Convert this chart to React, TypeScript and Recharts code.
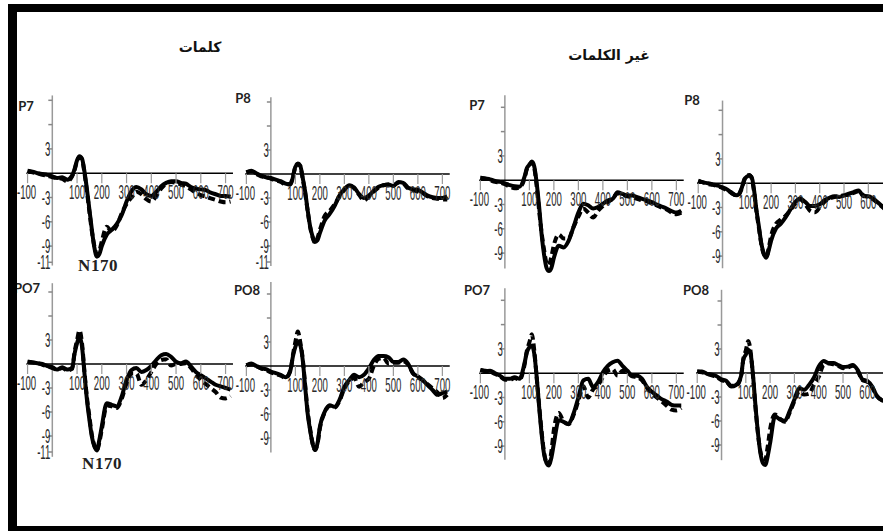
import React from 'react';
import { LineChart, Line, XAxis, YAxis, ReferenceLine, ReferenceDot } from 'recharts';

// time points (ms) for every trace
const times = [
  -100, -80, -60, -40, -20, 0, 20, 40, 60, 80,
  90, 100, 110, 120, 130, 140, 150, 160, 170, 180, 190, 200,
  220, 240, 260, 280, 300, 320, 340, 360, 380, 400, 420, 440, 460, 480, 500,
  520, 540, 560, 580, 600, 620, 640, 660, 680, 700, 720,
];

// كلمات (words)
const p7WordsSolid = [
  0.3, 0.2, 0, -0.1, -0.2, -0.4, -0.6, -0.5, -0.8, -0.3,
  0.5, 1.6, 2.1, 1.8, 0.2, -2.0, -4.5, -7.0, -9.2, -10.3, -10.0, -9.0,
  -7.6, -7.0, -6.3, -5.2, -3.5, -2.2, -1.7, -2.0, -2.6, -2.8, -2.3, -1.6, -1.2, -1.0, -1.0,
  -1.2, -1.3, -1.7, -1.9, -2.0, -2.1, -2.4, -2.6, -2.8, -2.8, -2.9,
];
const p7WordsDashed = [
  0.3, 0.1, 0, -0.2, -0.3, -0.5, -0.6, -0.7, -1.0, -0.4,
  0.4, 1.5, 2.0, 1.7, 0.0, -2.3, -4.8, -7.2, -9.0, -10.0, -9.6, -8.4,
  -6.6, -7.2, -6.5, -5.0, -3.8, -3.0, -2.3, -2.6, -3.2, -3.5, -2.8, -1.9, -1.3, -1.1, -1.2,
  -1.4, -1.6, -2.0, -2.4, -2.7, -2.9, -3.1, -3.3, -3.5, -3.6, -3.5,
];
const p8WordsSolid = [
  0.2, 0.4, 0.1, -0.2, -0.4, -0.5, -0.7, -0.9, -1.2, -1.3,
  -0.4, 0.9, 1.2, 1.0, -0.5, -2.2, -4.5, -6.5, -7.8, -8.5, -8.3, -7.4,
  -5.8, -5.0, -4.0, -2.7, -1.9, -1.4, -1.7, -2.5, -3.0, -2.7, -2.1, -1.6, -1.4, -1.3, -1.5,
  -1.0, -1.1, -1.7, -1.9, -2.0, -2.3, -2.7, -2.9, -3.0, -3.0, -2.8,
];
const p8WordsDashed = [
  0.2, 0.3, 0, -0.3, -0.4, -0.6, -0.8, -1.0, -1.3, -1.2,
  -0.3, 0.9, 1.3, 1.0, -0.6, -2.4, -4.6, -6.6, -7.9, -8.6, -8.0, -7.0,
  -5.2, -4.6, -3.8, -2.8, -2.0, -1.4, -1.8, -2.6, -3.3, -2.8, -2.2, -1.7, -1.4, -1.3, -1.4,
  -1.1, -1.2, -1.8, -2.0, -2.2, -2.4, -2.8, -3.0, -3.1, -3.2, -3.2,
];
const po7WordsSolid = [
  0.3, 0.2, 0.1, 0, -0.25, -0.4, -0.7, -0.4, -0.7, -0.5,
  1.3, 2.6, 3.4, 2.2, -1.2, -4.5, -7.0, -9.1, -10.3, -10.8, -9.5, -7.8,
  -4.9, -5.1, -5.3, -4.1, -2.0, -0.75, -0.5, -1.0, -0.75, -0.25, 0.5, 1.1, 1.25, 0.9, 0.3,
  0.1, 0.3, -0.3, -1.0, -1.4, -1.8, -2.2, -2.6, -2.8, -3.0, -3.2,
];
const po7WordsDashed = [
  0.3, 0.2, 0.1, -0.1, -0.3, -0.5, -0.7, -0.5, -0.8, -0.6,
  1.5, 3.0, 4.2, 2.6, -1.0, -4.2, -6.6, -8.9, -10.2, -10.8, -9.8, -8.2,
  -5.2, -5.3, -5.5, -4.4, -2.4, -1.2, -1.2, -2.6, -2.0, -1.0, 0, 0.5, 0.6, -0.2, 0,
  0, 0.1, -0.5, -1.3, -2.0, -2.5, -3.0, -3.5, -4.2, -4.3, -4.0,
];
const po8WordsSolid = [
  0.1, 0.3, 0, -0.3, -0.4, -0.7, -0.9, -1.1, -1.4, -0.5,
  1.2, 2.4, 3.0, 2.6, 0.75, -2.6, -5.9, -8.0, -9.7, -10.5, -9.7, -7.6,
  -5.7, -4.9, -5.1, -4.25, -2.6, -1.75, -1.1, -1.4, -1.1, -0.3, 0.75, 1.25, 1.25, 1.1, 0.5,
  0.5, 0.8, 0.3, -0.9, -1.3, -1.75, -2.4, -3.0, -3.6, -3.4, -3.2,
];
const po8WordsDashed = [
  0.1, 0.2, 0, -0.3, -0.5, -0.8, -1.0, -1.2, -1.5, -0.6,
  1.4, 3.0, 4.3, 3.0, 0.9, -2.4, -5.6, -7.8, -9.6, -10.5, -9.8, -7.8,
  -5.8, -5.0, -5.2, -4.4, -2.8, -1.9, -1.5, -2.6, -2.0, -1.6, 0, 0.9, 1.0, 0.3, 0.4,
  0.4, 0.6, 0.2, -0.9, -1.4, -1.8, -2.3, -2.8, -3.3, -4.0, -3.6,
];

// غير الكلمات (non-words)
const p7NonSolid = [
  0.3, 0.2, 0.1, -0.1, -0.2, -0.4, -0.6, -0.75, -0.8, 0.4,
  1.5, 1.9, 2.3, 1.7, -0.4, -3.3, -6.7, -9.2, -10.8, -11.2, -10.8, -9.6,
  -8.1, -8.3, -7.5, -5.8, -4.0, -2.9, -3.1, -3.5, -3.3, -2.9, -2.5, -2.3, -1.5, -1.7, -1.9,
  -1.9, -2.1, -2.3, -2.5, -2.7, -3.0, -3.25, -3.5, -3.8, -4.0, -3.75,
];
const p7NonDashed = [
  0.3, 0.2, 0, -0.2, -0.3, -0.5, -0.8, -1.0, -0.9, 0.2,
  1.4, 1.9, 2.2, 1.5, -0.8, -3.8, -6.5, -8.6, -10.2, -10.5, -9.4, -8.0,
  -6.7, -7.2, -7.2, -5.8, -4.5, -3.5, -4.0, -4.6, -3.8, -3.2, -2.7, -2.3, -1.6, -1.8, -2.0,
  -2.1, -2.3, -2.5, -2.6, -2.9, -3.1, -3.4, -3.6, -4.0, -4.2, -4.0,
];
const p8NonSolid = [
  0.3, 0.1, 0, -0.15, -0.3, -0.5, -0.8, -1.3, -1.5, -0.5,
  0.5, 0.8, 0.95, 0.75, -0.9, -3.4, -5.4, -7.5, -8.7, -9.2, -8.3, -7.1,
  -5.6, -5.0, -4.2, -3.2, -2.3, -1.9, -2.3, -2.8, -2.8, -2.6, -2.1, -1.8, -1.6, -1.7, -1.5,
  -1.3, -1.1, -0.9, -1.6, -1.6, -1.9, -2.4, -2.9, -3.4, -3.8, -4.0,
];
const p8NonDashed = [
  0.3, 0.1, -0.1, -0.2, -0.4, -0.6, -0.9, -1.2, -1.6, -0.6,
  0.4, 0.9, 1.0, 0.6, -1.1, -3.6, -5.6, -7.6, -8.8, -9.1, -8.0, -6.5,
  -5.0, -4.5, -4.0, -3.3, -2.5, -2.0, -2.6, -3.4, -3.6, -3.0, -2.3, -1.9, -1.7, -1.6, -1.5,
  -1.4, -1.2, -1.0, -1.5, -1.7, -2.0, -2.5, -3.0, -3.5, -3.9, -4.1,
];
const po7NonSolid = [
  0.4, 0.25, 0.3, 0, -0.3, -0.7, -0.7, -0.5, -0.7, 1.2,
  2.6, 3.2, 3.4, 2.4, -0.5, -4.2, -7.5, -10.0, -11.1, -11.4, -10.4, -8.7,
  -5.8, -6.0, -6.25, -5.0, -3.0, -0.9, -0.7, -1.7, -1.1, 0.1, 0.9, 1.35, 1.55, 0.9, 0.3,
  -0.3, -0.3, -0.7, -1.7, -2.3, -2.75, -3.2, -3.5, -3.9, -4.0, -4.0,
];
const po7NonDashed = [
  0.4, 0.3, 0.2, -0.1, -0.4, -0.8, -0.8, -0.6, -0.8, 1.0,
  2.8, 3.8, 4.8, 2.8, -0.6, -4.0, -7.2, -9.8, -11.0, -11.3, -9.6, -7.0,
  -4.9, -6.0, -6.3, -5.2, -3.4, -1.6, -3.0, -2.0, -1.5, -0.5, 0.3, 0.5, -0.3, 0.3, 0.1,
  -0.4, -0.5, -0.9, -1.8, -2.5, -3.0, -3.5, -4.0, -4.5, -4.6, -4.3,
];
const po8NonSolid = [
  0.2, 0.2, -0.1, -0.2, -0.4, -0.8, -1.0, -1.7, -1.5, -0.4,
  1.7, 2.3, 2.9, 2.3, -0.4, -4.2, -7.5, -10.0, -11.25, -11.5, -10.4, -8.75,
  -5.4, -5.8, -6.0, -4.8, -3.3, -1.9, -2.1, -1.5, -0.6, 0.8, 1.5, 1.25, 1.25, 1.0, 0.75,
  0.8, 1.0, 0.4, -0.8, -1.0, -1.7, -2.9, -3.4, -3.6, -3.8, -3.8,
];
const po8NonDashed = [
  0.2, 0.1, -0.1, -0.3, -0.5, -0.9, -1.1, -1.6, -1.6, -0.5,
  1.8, 2.8, 4.0, 2.6, -0.6, -4.4, -7.6, -9.8, -10.8, -10.8, -9.2, -7.0,
  -5.2, -5.7, -6.1, -5.0, -3.5, -2.3, -2.7, -2.6, -1.5, -0.5, 1.0, 1.2, 1.1, 0.9, 0.6,
  0.7, 0.9, 0.3, -0.9, -1.1, -1.8, -2.9, -3.4, -3.7, -3.9, -3.9,
];

const xTickValues = [-100, 100, 200, 300, 400, 500, 600, 700];
const yTickValuesLeft = [9, 6, 3, -3, -6, -9, -11];
const yTickValuesRight = [9, 6, 3, -3, -6, -9];
const yLabelled = [3, -3, -6, -9, -11];

const groupTitles = ['كلمات', 'غير الكلمات'];
const peakLabel = 'N170';

// panel placement: x0/y0 = pixel of (0 ms, 0 µV), sx px per ms, sy px per µV
const panels = [
  { name: 'P7', solid: p7WordsSolid, dashed: p7WordsDashed, x0: 52, sx: 0.2475, y0: 173, sy: 8.1, top: 9.6, bottom: -11.4, yTicks: yTickValuesLeft, nx: 26, ny: 106, n170: [98, 265] },
  { name: 'P8', solid: p8WordsSolid, dashed: p8WordsDashed, x0: 271, sx: 0.245, y0: 174, sy: 8.0, top: 9.6, bottom: -11.5, yTicks: yTickValuesLeft, nx: 243, ny: 98 },
  { name: 'PO7', solid: po7WordsSolid, dashed: po7WordsDashed, x0: 52, sx: 0.2475, y0: 364, sy: 8.0, top: 10.1, bottom: -11.6, yTicks: yTickValuesLeft, nx: 27, ny: 288, n170: [102, 463] },
  { name: 'PO8', solid: po8WordsSolid, dashed: po8WordsDashed, x0: 271, sx: 0.245, y0: 366, sy: 8.0, top: 10.5, bottom: -10.8, yTicks: yTickValuesRight, nx: 247, ny: 290 },
  { name: 'P7', solid: p7NonSolid, dashed: p7NonDashed, x0: 505, sx: 0.245, y0: 180, sy: 8.1, top: 10.5, bottom: -10.9, yTicks: yTickValuesRight, nx: 477, ny: 105 },
  { name: 'P8', solid: p8NonSolid, dashed: p8NonDashed, x0: 723, sx: 0.243, y0: 183, sy: 8.1, top: 10.2, bottom: -10.5, yTicks: yTickValuesRight, nx: 692, ny: 100 },
  { name: 'PO7', solid: po7NonSolid, dashed: po7NonDashed, x0: 505, sx: 0.245, y0: 373, sy: 8.1, top: 10.5, bottom: -10.7, yTicks: yTickValuesRight, nx: 477, ny: 290 },
  { name: 'PO8', solid: po8NonSolid, dashed: po8NonDashed, x0: 722, sx: 0.243, y0: 373, sy: 8.0, top: 10.4, bottom: -10.9, yTicks: yTickValuesRight, nx: 696, ny: 290 },
];

const X_MIN = -175;
const X_MAX = 740;
const Y_MIN = -13;
const Y_MAX = 12;

// tall, condensed tick text like the original figure
const narrow = (x: number, y: number, anchor: string, label: string) => (
  <text
    transform={`translate(${x},${y}) scale(0.48,1)`}
    textAnchor={anchor}
    dominantBaseline="central"
    fontSize={20}
    fontFamily="'Liberation Sans', Arial, sans-serif"
    fill="#2a2a2a"
  >
    {label}
  </text>
);

const XTick = (props: any) => {
  const { cx, cy, value } = props;
  return (
    <g>
      <line x1={cx} x2={cx} y1={cy} y2={cy + 10} stroke="#999" strokeWidth={1.2} />
      {narrow(value < 0 ? cx - 1 : cx, cy + 19, 'middle', String(value))}
    </g>
  );
};

const YTick = (props: any) => {
  const { cx, cy, value } = props;
  return (
    <g>
      <line x1={cx - 4} x2={cx} y1={cy} y2={cy} stroke="#888" strokeWidth={1.5} />
      {yLabelled.includes(value) ? narrow(cx - 2, cy, 'end', value > 0 ? String(value) : '-' + Math.abs(value)) : null}
    </g>
  );
};

const Panel = ({ p }: { p: any }) => {
  const rows = times.map((t, i) => ({ t, solid: p.solid[i], dashed: p.dashed[i] }));
  const left = p.x0 + X_MIN * p.sx;
  const width = (X_MAX - X_MIN) * p.sx;
  const top = p.y0 - Y_MAX * p.sy;
  const height = (Y_MAX - Y_MIN) * p.sy;
  return (
    <div style={{ position: 'absolute', left, top }}>
      <LineChart width={width} height={height} data={rows} margin={{ top: 0, right: 0, bottom: 0, left: 0 }}>
        <XAxis dataKey="t" type="number" domain={[X_MIN, X_MAX]} allowDataOverflow hide />
        <YAxis type="number" domain={[Y_MIN, Y_MAX]} allowDataOverflow hide />
        <ReferenceLine segment={[{ x: 0, y: p.bottom }, { x: 0, y: p.top }]} stroke="#999" strokeWidth={1.5} />
        {xTickValues.map((v) => (
          <ReferenceDot key={'x' + v} x={v} y={0} r={0} shape={(s: any) => <XTick {...s} value={v} />} />
        ))}
        {p.yTicks.map((v: number) => (
          <ReferenceDot key={'y' + v} x={0} y={v} r={0} shape={(s: any) => <YTick {...s} value={v} />} />
        ))}
        <ReferenceLine segment={[{ x: -105, y: 0 }, { x: 730, y: 0 }]} stroke="#000" strokeWidth={1.6} />
        <Line dataKey="dashed" type="monotone" stroke="#000" strokeWidth={4} strokeDasharray="7 4" dot={false} isAnimationActive={false} />
        <Line dataKey="solid" type="monotone" stroke="#000" strokeWidth={4} dot={false} isAnimationActive={false} />
      </LineChart>
    </div>
  );
};

const centered = (x: number, y: number): React.CSSProperties => ({
  position: 'absolute',
  left: x,
  top: y,
  transform: 'translate(-50%, -50%)',
  whiteSpace: 'nowrap',
  lineHeight: 1,
});

export default function App() {
  return (
    <div style={{ position: 'fixed', left: 0, top: 0, width: 883, height: 531, overflow: 'hidden', background: '#fff' }}>
      {panels.map((p, i) => (
        <Panel key={i} p={p} />
      ))}
      {panels.map((p, i) => (
        <div key={'n' + i} style={{ ...centered(p.nx, p.ny), fontFamily: 'Lato, sans-serif', fontWeight: 700, fontSize: 13, color: '#222' }}>
          {p.name}
        </div>
      ))}
      {panels.filter((p) => p.n170).map((p, i) => (
        <div key={'k' + i} style={{ ...centered(p.n170![0], p.n170![1]), fontFamily: "'Liberation Serif', serif", fontWeight: 700, fontSize: 17, letterSpacing: 0.5, color: '#222' }}>
          {peakLabel}
        </div>
      ))}
      <div dir="rtl" style={{ ...centered(200, 47), fontFamily: "'DejaVu Sans', sans-serif", fontWeight: 700, fontSize: 14, color: '#111' }}>
        {groupTitles[0]}
      </div>
      <div dir="rtl" style={{ ...centered(609, 55), fontFamily: "'DejaVu Sans', sans-serif", fontWeight: 700, fontSize: 14, color: '#111' }}>
        {groupTitles[1]}
      </div>
      {/* black frame, open on the right */}
      <div style={{ position: 'absolute', left: 8, top: 4, width: 875, height: 8, background: '#000' }} />
      <div style={{ position: 'absolute', left: 8, top: 4, width: 9, height: 527, background: '#000' }} />
      <div style={{ position: 'absolute', left: 8, top: 526, width: 875, height: 5, background: '#000' }} />
    </div>
  );
}
